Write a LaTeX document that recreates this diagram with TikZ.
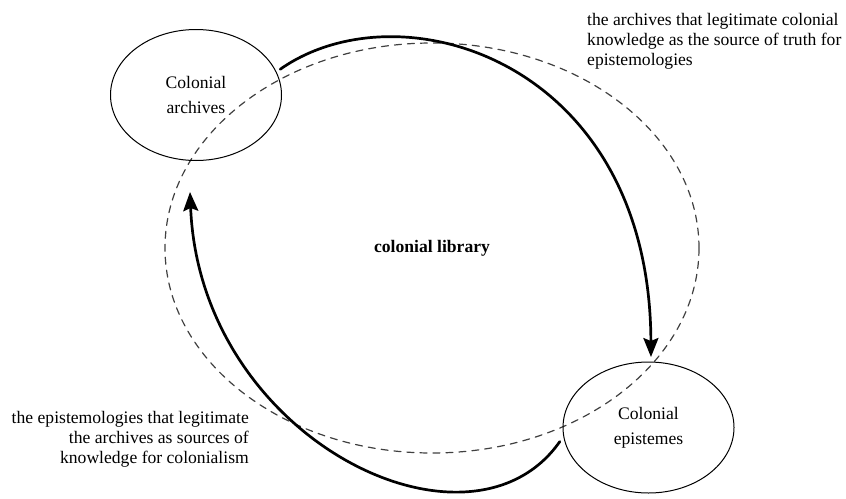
\documentclass[tikz,border=0pt]{standalone}
\usepackage{fontspec}
\setmainfont{Liberation Serif}
\usetikzlibrary{shapes.geometric,arrows.meta}
\begin{document}
\begin{tikzpicture}[x=1pt, y=-1pt, line join=round, line cap=round,
  font=\fontsize{17.6}{20}\selectfont,
  >={Stealth[length=19pt,width=15pt,inset=3pt]},
  oval/.style={draw, ellipse, line width=1pt, minimum width=171pt, minimum height=131pt,
    outer sep=5pt, align=center, font=\fontsize{17.6}{25}\selectfont},
  flow/.style={->, line width=2.7pt},
  note/.style={inner sep=0pt}]
\useasboundingbox (0,0) rectangle (846,498);
% the library round everything
\node[draw=black!75, ellipse, line width=1.2pt, dash pattern=on 7pt off 6pt,
  minimum width=534pt, minimum height=410pt] (lib) at (432,248) {\bfseries colonial library};
\node[oval] (arch) at (196,95) {Colonial\\archives};
\node[oval] (epis) at (648.5,427.5) {Colonial\\epistemes};
\node[note, anchor=west, align=left] (topnote) at (587,41)
  {the archives that legitimate colonial\\knowledge as the source of truth for\\epistemologies};
\node[note, anchor=east, align=right] (botnote) at (249,439)
  {the epistemologies that legitimate\\the archives as sources of\\knowledge for colonialism};
% the two arcs
\draw[flow] (arch.17) .. controls (400,-15) and (650,60) .. (epis.88);
\coordinate (tip) at (190,192);
\draw[flow] (epis.189) .. controls (470,570) and (200,440) .. (tip);
\end{tikzpicture}
\end{document}
